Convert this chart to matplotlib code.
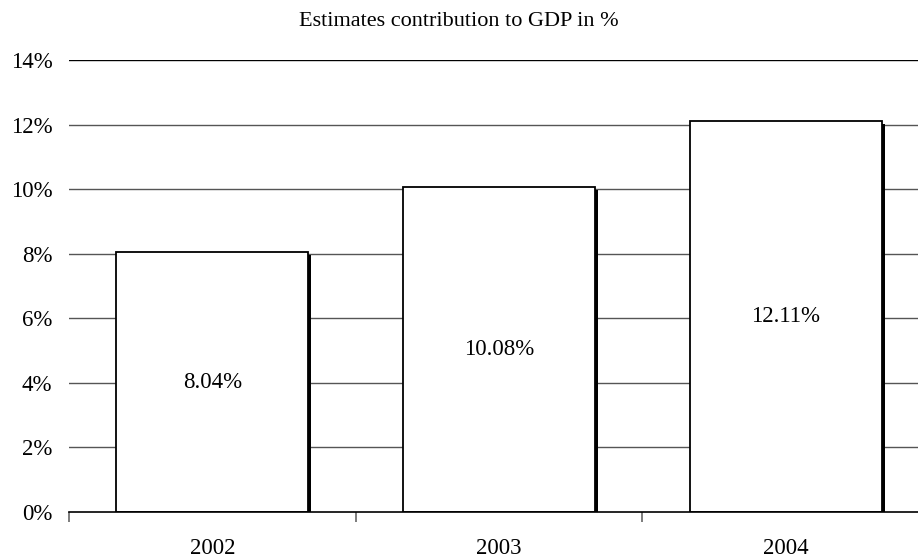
import matplotlib
matplotlib.use("Agg")
import matplotlib.pyplot as plt
import numpy as np

years = ["2002", "2003", "2004"]
share = [8.04, 10.08, 12.11]
y_ticks = [0, 2, 4, 6, 8, 10, 12, 14]

plt.rcParams["font.family"] = ["Liberation Serif", "DejaVu Serif"]

W, H, DPI = 918, 558, 100
fig = plt.figure(figsize=(W / DPI, H / DPI), dpi=DPI)
# plot area runs slightly past the right edge of the canvas
left_px, right_px, bottom_px, top_px = 69, 929, 512, 60
ax = fig.add_axes([left_px / W, 1 - bottom_px / H,
                   (right_px - left_px) / W, (bottom_px - top_px) / H])

x = np.arange(len(years))
ax.set_xlim(-0.5, len(years) - 0.5)
ax.set_ylim(0, 14)

# pixel -> data conversion for the drop shadow
px_x = (len(years)) / (right_px - left_px)
px_y = 14 / (bottom_px - top_px)
bar_w = 0.67

for v in y_ticks[1:]:
    ax.axhline(v, color="#000000" if v == 14 else "#555555", lw=1.0, zorder=0)

ax.bar(x + 3 * px_x, np.array(share) - 3 * px_y, width=bar_w,
       color="black", edgecolor="none", zorder=2)
ax.bar(x, share, width=bar_w, color="white", edgecolor="black",
       linewidth=1.3, zorder=3)

for xi, v in zip(x, share):
    ax.text(xi, v / 2, f"{v:.2f}%", ha="center", va="center",
            fontsize=16.5, zorder=4)

for s in ["top", "right", "left"]:
    ax.spines[s].set_visible(False)
ax.spines["bottom"].set_linewidth(1.2)
ax.spines["bottom"].set_zorder(5)

ax.set_yticks(y_ticks)
ax.set_yticklabels([f"{v}%" for v in y_ticks], fontsize=16.5)
ax.tick_params(axis="y", length=0, pad=12)

ax.set_xticks(x)
ax.set_xticklabels(years, fontsize=16.5)
ax.set_xticks(np.arange(len(years)) - 0.5, minor=True)
ax.tick_params(axis="x", which="major", length=0, pad=19)
ax.tick_params(axis="x", which="minor", length=7, width=1.2, color="#666666")

fig.text(0.5, 1 - 22 / H, "Estimates contribution to GDP in %",
         ha="center", va="center", fontsize=16)

fig.savefig("out.png", dpi=DPI)
